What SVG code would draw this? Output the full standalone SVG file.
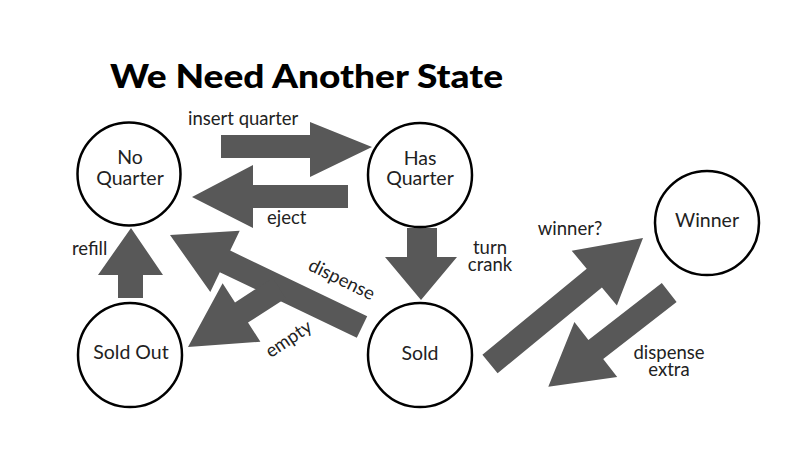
<svg xmlns="http://www.w3.org/2000/svg" width="804" height="464" viewBox="0 0 804 464">
<style>
.node circle{fill:#fff;stroke:#000;stroke-width:2.5}
.lbl{font-family:Lato,"Noto Sans",sans-serif;font-size:19.5px;fill:#222;text-anchor:middle}
.el{font-family:Lato,"Noto Sans",sans-serif;font-size:18.5px;fill:#222}
.arrow{fill:#585858}
.title{font-family:Lato,"Noto Sans",sans-serif;font-weight:900;font-size:33px;fill:#000}
</style>
<rect width="804" height="464" fill="#fff"/>
<text class="title" x="110" y="88" textLength="393" lengthAdjust="spacingAndGlyphs">We Need Another State</text>
<g id="connectors">
<polygon class="arrow" points="221,135 310,135 310,122 372,147 310,177 310,158 221,158"/>
<polygon class="arrow" points="348,185 253,185 253,165 192,197 253,228 253,208 348,208"/>
<polygon class="arrow" points="118,298 118,275 98,275 131,228 163,275 143,275 143,298"/>
<polygon class="arrow" points="407,228 437,228 437,257 457,257 421,300 385,257 407,257"/>
<polygon class="arrow" points="170,235 239.7,230.7 230.2,250.6 367.2,316.2 356.8,337.8 219.8,272.2 210.3,292.1"/>
<polygon class="arrow" points="188,347 222.6,283.3 235,302.4 272.8,278 285.8,298.2 248,322.6 260.4,341.7"/>
<polygon class="arrow" points="643,238 571.7,250.7 586.7,268.8 482.4,354.7 497.6,373.3 601.9,287.4 616.9,305.5"/>
<polygon class="arrow" points="548.3,386.7 574.4,322.1 588.4,340.1 661.8,283 676.6,302 603.2,359.1 617.2,377.1"/>
<text class="el" x="188" y="125">insert quarter</text>
<text class="el" x="267" y="224">eject</text>
<text class="el" x="72" y="255">refill</text>
<text class="el" x="490" y="254" text-anchor="middle">turn</text>
<text class="el" x="490" y="271" text-anchor="middle">crank</text>
<text class="el" transform="translate(339,285) rotate(26)" text-anchor="middle">dispense</text>
<text class="el" transform="translate(292,344) rotate(-34)" text-anchor="middle">empty</text>
<text class="el" x="570" y="235" text-anchor="middle">winner?</text>
<text class="el" x="669" y="359" text-anchor="middle">dispense</text>
<text class="el" x="669" y="376" text-anchor="middle">extra</text>
</g>
<g id="no-quarter" class="node"><circle cx="129" cy="174" r="51.5"/><text class="lbl" x="130" y="164">No</text><text class="lbl" x="130" y="185">Quarter</text></g>
<g id="has-quarter" class="node"><circle cx="420" cy="175" r="52"/><text class="lbl" x="420" y="165">Has</text><text class="lbl" x="420" y="185">Quarter</text></g>
<g id="sold-out" class="node"><circle cx="130" cy="355" r="52"/><text class="lbl" x="131" y="359">Sold Out</text></g>
<g id="sold" class="node"><circle cx="420" cy="355" r="52"/><text class="lbl" x="420" y="360">Sold</text></g>
<g id="winner" class="node"><circle cx="707" cy="223" r="52"/><text class="lbl" x="707" y="227">Winner</text></g>
</svg>
